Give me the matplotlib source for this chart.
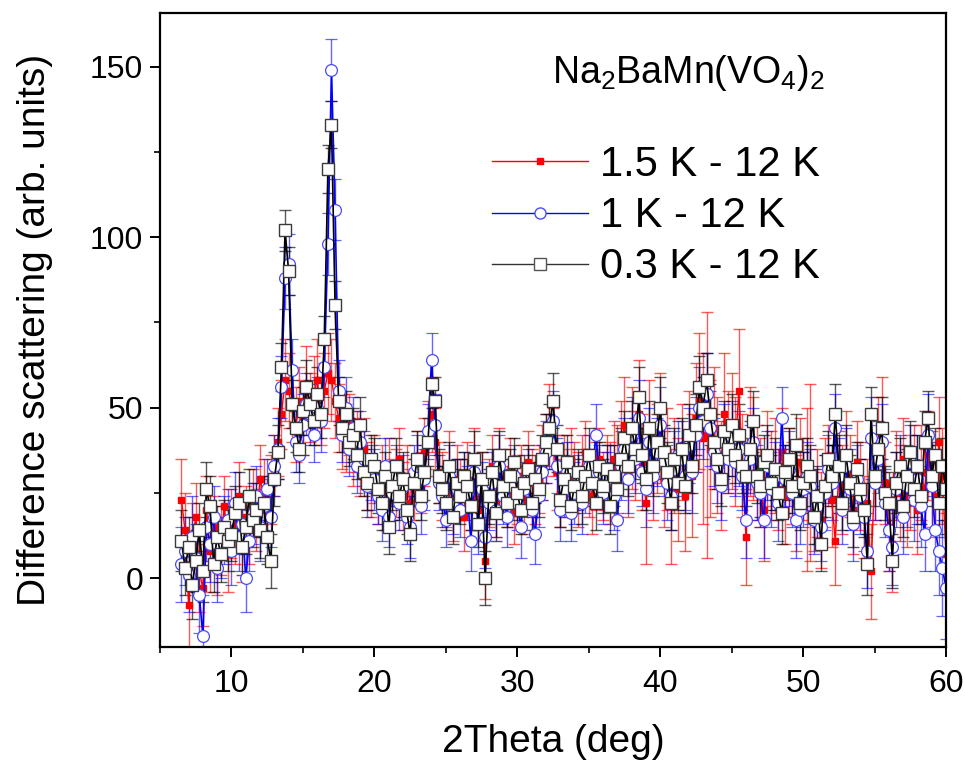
import numpy as np
import matplotlib
matplotlib.use("Agg")
import matplotlib.pyplot as plt
from matplotlib.lines import Line2D

plt.rcParams["font.family"] = ["Liberation Sans", "DejaVu Sans"]
plt.rcParams["mathtext.default"] = "regular"

# 2Theta grid (deg), 0.25 deg binning
two_theta = np.arange(6.5, 60.001, 0.25)

# 1.5 K - 12 K
y_15 = [23, 14, -8, 10, 18, 2, -3, 20, 8, 15, 6, 11, 21, 7, 16, 13, 24, 10, 18, 14,
        22, 17, 29, 24, 20, 26, 33, 40, 48, 58, 55, 50, 45, 52, 47, 56, 50, 54, 58, 49,
        55, 60, 58, 52, 47, 43, 41, 45, 37, 40, 34, 38, 30, 27, 32, 25, 29, 23, 31, 26,
        28, 35, 24, 30, 22, 26, 33, 28, 37, 42, 48, 40, 31, 27, 24, 33, 20, 29, 26, 18,
        30, 23, 34, 20, 27, 5, 25, 33, 22, 35, 28, 24, 31, 19, 26, 30, 23, 34, 28, 25,
        29, 34, 38, 45, 40, 31, 25, 33, 28, 35, 30, 26, 32, 37, 28, 24, 30, 35, 27, 31,
        28, 35, 32, 40, 45, 30, 41, 36, 48, 34, 22, 43, 31, 38, 44, 29, 35, 21, 33, 26,
        37, 24, 40, 30, 47, 52, 41, 42, 38, 44, 36, 30, 48, 40, 43, 37, 55, 33, 12, 40,
        38, 31, 28, 20, 35, 30, 33, 26, 37, 24, 31, 28, 22, 34, 29, 26, 31, 20, 25, 17,
        28, 33, 23, 11, 31, 26, 35, 30, 20, 34, 27, 18, 22, 2, 29, 40, 45, 28, 15, 10,
        30, 25, 35, 22, 28, 33, 20, 31, 26, 36, 29, 24, 40, 30, 7]
err_15 = [12, 11, 13, 12, 10, 12, 11, 10, 12, 9, 11, 10, 9, 11, 10, 9, 10, 11, 9, 10,
          10, 9, 10, 11, 9, 10, 9, 10, 10, 12, 11, 10, 11, 10, 11, 12, 10, 11, 12, 10,
          11, 12, 12, 11, 10, 11, 10, 9, 10, 9, 10, 9, 10, 9, 10, 9, 10, 9, 10, 9,
          10, 9, 10, 9, 10, 9, 10, 9, 10, 10, 11, 10, 9, 10, 9, 10, 9, 10, 9, 10,
          10, 9, 10, 9, 10, 11, 10, 9, 10, 9, 10, 9, 10, 9, 10, 9, 10, 9, 10, 9,
          10, 11, 10, 12, 10, 11, 10, 9, 10, 9, 10, 11, 10, 9, 10, 11, 10, 9, 10, 11,
          12, 11, 13, 12, 14, 12, 15, 13, 16, 14, 18, 15, 14, 13, 16, 14, 15, 17, 14, 15,
          14, 16, 15, 18, 16, 20, 25, 36, 20, 18, 17, 16, 18, 15, 17, 16, 18, 15, 14, 16,
          15, 14, 13, 15, 14, 13, 14, 12, 13, 14, 13, 12, 14, 13, 12, 24, 26, 12, 13, 14,
          13, 12, 14, 13, 12, 13, 14, 12, 13, 12, 13, 12, 13, 14, 12, 13, 14, 12, 13, 14,
          13, 14, 12, 13, 14, 12, 13, 14, 12, 13, 14, 12, 13, 14, 12]

# 1 K - 12 K
y_1 = [4, 8, 1, 12, 6, -5, -17, 15, 10, 18, 3, 9, 14, 17, 8, 22, 12, 16, 0, 11,
       19, 24, 15, 21, 26, 18, 33, 38, 56, 88, 92, 61, 40, 36, 45, 51, 48, 42, 50, 46,
       62, 98, 149, 108, 55, 42, 50, 38, 44, 33, 40, 35, 27, 31, 29, 24, 20, 33, 18, 25,
       30, 22, 27, 18, 15, 31, 33, 21, 29, 43, 64, 45, 28, 24, 17, 30, 21, 26, 20, 28,
       25, 11, 31, 16, 26, 12, 22, 28, 20, 33, 24, 18, 27, 30, 22, 15, 26, 29, 20, 13,
       24, 31, 37, 40, 46, 33, 20, 26, 31, 19, 25, 28, 22, 27, 33, 30, 42, 31, 25, 29,
       30, 24, 17, 33, 38, 29, 42, 35, 47, 31, 26, 40, 30, 37, 45, 34, 28, 24, 32, 36,
       35, 30, 39, 31, 42, 50, 46, 54, 44, 37, 33, 27, 40, 35, 41, 34, 38, 30, 17, 35,
       40, 28, 25, 17, 33, 26, 30, 22, 47, 29, 32, 25, 17, 20, 26, 30, 27, 17, 21, 15,
       25, 32, 28, 44, 30, 20, 33, 26, 16, 29, 24, 18, 8, 41, 28, 35, 40, 22, 14, 9,
       26, 30, 18, 27, 34, 23, 29, 21, 13, 42, 27, 14, 8, 3, -3]
err_1 = [11, 10, 11, 12, 10, 11, 12, 10, 11, 9, 10, 9, 10, 9, 10, 9, 10, 9, 10, 9,
         9, 9, 10, 9, 9, 9, 9, 9, 9, 9, 9, 9, 9, 8, 9, 9, 9, 8, 9, 9,
         9, 9, 9, 9, 9, 8, 9, 8, 9, 8, 9, 8, 9, 8, 9, 8, 9, 8, 9, 8,
         9, 8, 9, 8, 9, 8, 9, 8, 9, 8, 8, 9, 8, 9, 8, 9, 8, 9, 8, 9,
         8, 9, 8, 9, 8, 9, 8, 9, 8, 9, 8, 9, 8, 9, 8, 9, 8, 9, 8, 9,
         9, 8, 9, 8, 9, 8, 9, 8, 9, 8, 9, 8, 9, 8, 9, 8, 9, 8, 9, 8,
         9, 10, 9, 10, 9, 10, 11, 10, 11, 10, 11, 10, 11, 10, 11, 10, 11, 10, 11, 10,
         11, 10, 11, 12, 11, 12, 11, 12, 11, 10, 11, 10, 11, 10, 11, 10, 11, 10, 11, 10,
         10, 11, 10, 11, 10, 11, 10, 11, 9, 10, 11, 10, 11, 10, 11, 10, 11, 10, 11, 10,
         11, 10, 11, 10, 11, 10, 11, 12, 11, 10, 11, 10, 11, 12, 11, 10, 11, 10, 12, 11,
         11, 12, 11, 12, 11, 12, 13, 12, 11, 12, 13, 12, 13, 14, 15]

# 0.3 K - 12 K
y_03 = [11, 3, 9, -2, 5, 14, 2, 26, 21, 4, 12, 7, 15, 11, 13, 19, 22, 9, 15, 24,
        17, 20, 14, 22, 12, 5, 29, 37, 62, 102, 90, 51, 44, 38, 49, 56, 51, 46, 54, 48,
        70, 120, 133, 80, 52, 44, 48, 40, 42, 36, 45, 31, 28, 35, 33, 26, 22, 30, 15, 27,
        33, 24, 29, 20, 13, 28, 35, 24, 31, 40, 57, 52, 30, 26, 22, 33, 18, 28, 24, 30,
        27, 21, 35, 16, 29, 0, 24, 31, 19, 36, 27, 22, 30, 34, 25, 20, 28, 32, 22, 29,
        26, 35, 40, 44, 52, 38, 23, 29, 34, 21, 27, 31, 24, 30, 36, 28, 22, 33, 27, 32,
        21, 30, 26, 35, 41, 33, 44, 38, 53, 36, 29, 44, 33, 40, 50, 37, 31, 22, 35, 28,
        38, 27, 42, 33, 45, 56, 50, 58, 48, 40, 35, 29, 43, 38, 45, 36, 42, 33, 30, 38,
        46, 30, 27, 34, 36, 28, 32, 25, 19, 31, 35, 27, 39, 22, 28, 33, 30, 18, 24, 10,
        27, 35, 30, 48, 33, 22, 36, 28, 18, 32, 26, 20, 4, 48, 30, 38, 44, 25, 22, 5,
        28, 33, 21, 30, 37, 26, 33, 24, 40, 47, 30, 36, 22, 33, 26]
err_03 = [9, 8, 9, 10, 9, 8, 9, 8, 9, 8, 9, 8, 8, 9, 8, 8, 9, 8, 8, 8,
          8, 8, 8, 8, 8, 8, 8, 8, 7, 6, 7, 7, 7, 7, 7, 8, 7, 7, 8, 7,
          7, 7, 7, 7, 7, 7, 7, 7, 8, 7, 8, 7, 8, 7, 8, 7, 8, 7, 8, 7,
          8, 7, 8, 7, 8, 7, 8, 7, 8, 7, 7, 7, 8, 7, 8, 7, 8, 7, 8, 7,
          8, 7, 8, 7, 8, 8, 8, 7, 8, 7, 8, 7, 8, 7, 8, 7, 8, 7, 8, 7,
          8, 7, 8, 7, 8, 7, 8, 7, 8, 7, 8, 7, 8, 7, 8, 7, 8, 7, 8, 7,
          8, 9, 8, 9, 8, 9, 8, 9, 9, 8, 9, 8, 9, 8, 9, 8, 9, 8, 9, 8,
          9, 8, 9, 8, 9, 9, 9, 8, 9, 8, 9, 8, 9, 8, 9, 8, 9, 8, 9, 8,
          9, 8, 9, 8, 9, 8, 9, 8, 9, 8, 9, 8, 9, 8, 9, 8, 9, 8, 9, 8,
          9, 8, 9, 9, 9, 8, 9, 8, 9, 8, 9, 8, 9, 8, 9, 8, 9, 8, 9, 8,
          9, 8, 9, 8, 9, 8, 9, 8, 9, 8, 9, 8, 9, 8, 9]

labels = ["1.5 K - 12 K", "1 K - 12 K", "0.3 K - 12 K"]

fig = plt.figure(figsize=(9.65, 7.61), dpi=100)
ax = fig.add_axes([160/965, 114/761, 786/965, 634/761])

ax.errorbar(two_theta, y_15, yerr=err_15, fmt="s-", color="red", lw=1.0,
            ms=5, mfc="red", mec="red", ecolor=(1, 0, 0, 0.65),
            elinewidth=1.0, capsize=4, capthick=1.0)
ax.errorbar(two_theta, y_1, yerr=err_1, fmt="o-", color="blue", lw=1.2,
            ms=8.5, mfc="white", mec="#4a4aff", mew=0.9, ecolor=(0, 0, 1, 0.6),
            elinewidth=1.0, capsize=4, capthick=1.0)
ax.errorbar(two_theta, y_03, yerr=err_03, fmt="s-", color="black", lw=1.2,
            ms=8.5, mfc="white", mec="#3a3a3a", mew=1.0, ecolor=(0, 0, 0, 0.65),
            elinewidth=1.0, capsize=4, capthick=1.0)

ax.set_xticks([10, 20, 30, 40, 50, 60])
ax.set_xticks([5, 15, 25, 35, 45, 55], minor=True)
ax.set_yticks([0, 50, 100, 150])
ax.set_yticks([25, 75, 125], minor=True)
ax.set_xlim(5, 60)
ax.set_ylim(-20.2, 165.7)
ax.tick_params(which="major", direction="out", length=7, width=1.4,
               labelsize=23, pad=5, top=False, right=False)
ax.tick_params(axis="x", which="major", pad=9)
ax.tick_params(which="minor", direction="out", length=4, width=1.2,
               top=False, right=False)
for s in ax.spines.values():
    s.set_linewidth(1.6)

ax.set_xlabel("2Theta (deg)", fontsize=28, labelpad=18)
ax.set_ylabel("Difference scattering (arb. units)", fontsize=28, labelpad=27)

ax.text(0.499, 0.890, "Na$_2$BaMn(VO$_4$)$_2$", transform=ax.transAxes,
        fontsize=27, ha="left", va="baseline")

handles = [
    Line2D([], [], color="red", lw=1.0, marker="s", ms=5, mfc="red", mec="red"),
    Line2D([], [], color="blue", lw=1.0, marker="o", ms=8, mfc="white", mec="#4a4aff"),
    Line2D([], [], color="#333333", lw=1.0, marker="s", ms=8, mfc="white", mec="#555555"),
]
ax.legend(handles, labels, loc="upper left", bbox_to_anchor=(0.422, 0.792),
          frameon=False, fontsize=30, handlelength=2.3, handletextpad=0.3,
          labelspacing=0.27, borderpad=0, borderaxespad=0)

fig.savefig("out.png", dpi=100)
